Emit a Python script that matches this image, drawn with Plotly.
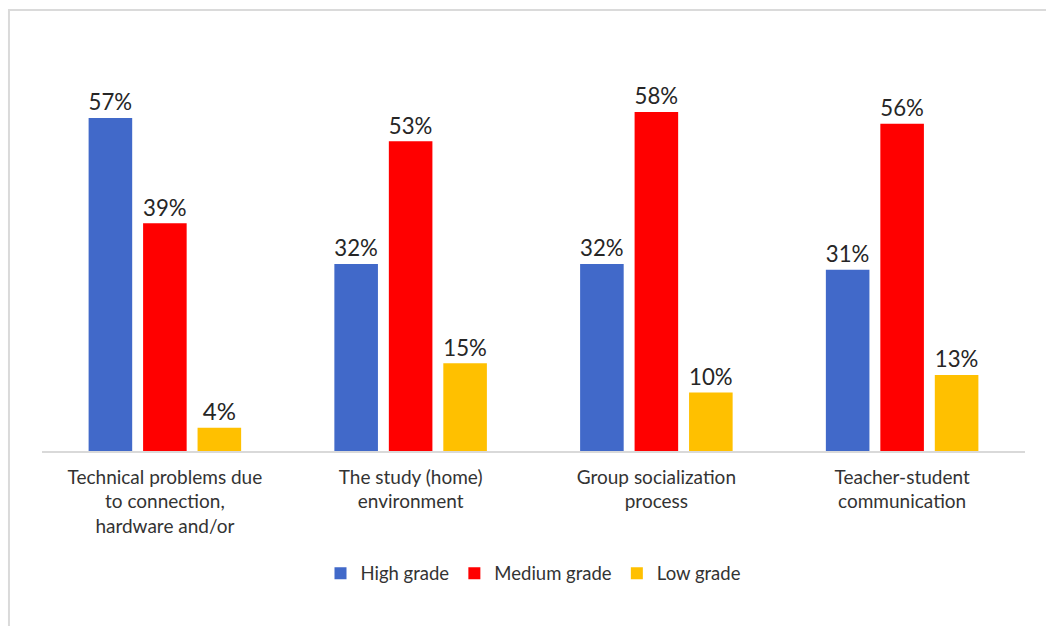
import plotly.graph_objects as go

categories = [
    "Technical problems due<br>to connection,<br>hardware and/or",
    "The study (home)<br>environment",
    "Group socialization<br>process",
    "Teacher-student<br>communication",
]
series_names = ["High grade", "Medium grade", "Low grade"]
high = [57, 32, 32, 31]
medium = [39, 53, 58, 56]
low = [4, 15, 10, 13]
colors = ["#4169C9", "#FF0000", "#FFC000"]

FONT = "Lato, 'Open Sans', sans-serif"

fig = go.Figure()
for name, vals, col in zip(series_names, [high, medium, low], colors):
    fig.add_trace(go.Bar(
        x=categories, y=vals, name=name,
        marker=dict(color=col, line=dict(width=0)),
        text=[f"{v}%" for v in vals],
        textposition="outside",
        textfont=dict(size=24, color="#262626", family=FONT),
        cliponaxis=False,
    ))

fig.update_layout(
    width=1046, height=626,
    margin=dict(l=42, r=21, t=42, b=175),
    paper_bgcolor="white", plot_bgcolor="white",
    barmode="group", bargap=0.335, bargroupgap=0.2,
    font=dict(family=FONT, color="#3a3a3a"),
    xaxis=dict(
        showline=True, linecolor="#D9D9D9", linewidth=1.5,
        ticks="", tickfont=dict(size=19, color="#333333", family=FONT),
        ticklabelstandoff=8,
        showgrid=False,
    ),
    yaxis=dict(range=[0, 70], visible=False, showgrid=False),
    showlegend=True,
    legend=dict(
        orientation="h", x=0.5, xanchor="center", y=-0.30, yanchor="middle",
        font=dict(size=18.5, color="#333333", family=FONT),
        itemwidth=30, tracegroupgap=0,
    ),
    shapes=[dict(
        type="rect", xref="paper", yref="paper",
        x0=-0.0336, x1=1.2, y0=-0.6, y1=1.078,
        line=dict(color="#DADADA", width=2), fillcolor="rgba(0,0,0,0)", layer="below",
    )],
)

fig.write_html("out.html")
